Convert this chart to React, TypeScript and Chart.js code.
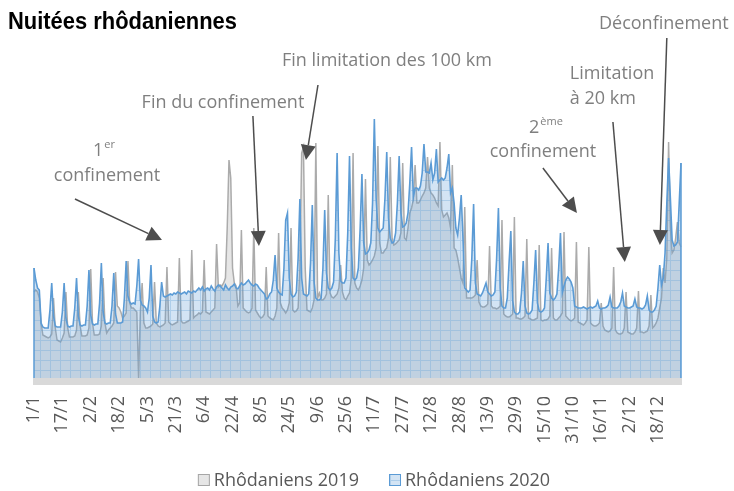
import React, { useEffect, useRef } from 'react';
import { Chart, registerables } from 'chart.js';

Chart.register(...registerables);

const TITLE = 'Nuitées rhôdaniennes';
const SERIES_LABELS = ['Rhôdaniens 2019', 'Rhôdaniens 2020'];
const TICK_LABELS = ['1/1', '17/1', '2/2', '18/2', '5/3', '21/3', '6/4', '22/4', '8/5', '24/5', '9/6', '25/6', '11/7', '27/7', '12/8', '28/8', '13/9', '29/9', '15/10', '31/10', '16/11', '2/12', '18/12'];

// daily categories of 2020 (leap year, 366 days)
const DAYS: string[] = [];
for (let i = 0; i < 366; i++) {
  const d = new Date(2020, 0, 1 + i);
  DAYS.push(`${d.getDate()}/${d.getMonth() + 1}`);
}

// Nuitées 2019 (aligned by calendar date; 29/2 has no 2019 value)
const NUITEES_2019 = [
  86, 88, 86, 80, 55, 43, 42,
  41, 40, 41, 44, 80, 50, 38,
  37, 36, 40, 45, 86, 50, 41,
  41, 41, 42, 48, 86, 52, 42,
  42, 42, 43, 50, 109, 55, 43,
  43, 43, 44, 52, 100, 55, 45,
  48, 50, 52, 55, 106, 72, 70,
  66, 60, 62, 65, 117, 75, 70,
  70, 68, 66, 0, 66, 95, 55,
  50, 50, 51, 52, 54, 96, 55,
  52, 51, 52, 53, 55, 111, 56,
  54, 53, 54, 55, 56, 120, 57,
  55, 55, 56, 57, 58, 128, 60,
  62, 63, 65, 64, 66, 118, 66,
  65, 64, 66, 68, 70, 134, 91,
  93, 92, 95, 100, 150, 218, 200,
  110, 95, 92, 72, 75, 148, 70,
  68, 66, 65, 66, 70, 150, 68,
  65, 62, 60, 61, 64, 111, 62,
  60, 59, 58, 62, 70, 145, 75,
  70, 68, 65, 68, 75, 150, 68,
  66, 67, 70, 110, 225, 231, 110,
  68, 67, 66, 70, 78, 235, 80,
  85, 78, 78, 80, 84, 183, 85,
  81, 80, 82, 84, 90, 113, 86,
  80, 78, 82, 85, 100, 225, 95,
  90, 88, 92, 98, 110, 199, 118,
  113, 115, 118, 122, 130, 232, 135,
  125, 125, 128, 130, 140, 221, 140,
  133, 134, 136, 138, 145, 215, 140,
  138, 150, 165, 170, 178, 213, 175,
  175, 178, 182, 185, 190, 221, 190,
  185, 183, 180, 175, 172, 236, 168,
  161, 163, 165, 160, 150, 213, 130,
  128, 120, 110, 100, 95, 171, 80,
  80, 80, 80, 81, 83, 118, 76,
  72, 71, 71, 72, 74, 132, 72,
  70, 70, 69, 70, 72, 158, 64,
  62, 61, 61, 62, 64, 161, 60,
  60, 59, 59, 60, 62, 139, 60,
  59, 58, 58, 59, 60, 133, 58,
  57, 58, 58, 59, 62, 130, 60,
  58, 58, 60, 62, 65, 146, 62,
  60, 58, 57, 58, 60, 136, 56,
  55, 54, 53, 55, 58, 131, 55,
  53, 52, 52, 53, 55, 75, 52,
  48, 47, 46, 47, 50, 111, 48,
  45, 44, 44, 45, 50, 86, 46,
  45, 44, 44, 46, 50, 87, 46,
  46, 45, 46, 47, 52, 83, 50,
  52, 55, 60, 70, 80, 110, 95,
  120, 236, 150, 125, 128, 140, 156,
  135, 131,
];

const NUITEES_2020 = [
  110, 98, 90, 88, 55, 51, 50,
  50, 50, 68, 95, 62, 52, 51,
  51, 51, 66, 95, 60, 52, 51,
  52, 52, 70, 100, 62, 53, 52,
  53, 53, 72, 108, 63, 54, 53,
  54, 54, 75, 115, 66, 55, 54,
  55, 55, 72, 105, 64, 55, 55,
  55, 56, 80, 117, 82, 76, 74,
  75, 74, 92, 119, 78, 73, 72,
  70, 66, 80, 113, 62, 56, 55,
  56, 72, 96, 82, 81, 82, 83,
  84, 83, 85, 84, 86, 85, 84,
  85, 86, 84, 87, 86, 85, 87,
  86, 88, 90, 88, 91, 87, 89,
  90, 88, 92, 89, 87, 91, 93,
  92, 90, 88, 93, 90, 88, 91,
  92, 94, 90, 89, 92, 95, 93,
  94, 96, 98, 95, 93, 92, 94,
  93, 90, 88, 86, 84, 79, 80,
  84, 86, 98, 123, 90, 86, 84,
  83, 110, 158, 165, 100, 84, 81,
  82, 86, 120, 179, 100, 84, 83,
  82, 84, 115, 173, 96, 80, 78,
  78, 80, 110, 168, 105, 90, 88,
  90, 96, 140, 225, 125, 97, 95,
  95, 100, 145, 222, 130, 100, 98,
  100, 110, 150, 204, 135, 124, 125,
  128, 135, 175, 259, 180, 150, 146,
  148, 150, 180, 226, 160, 140, 135,
  136, 145, 175, 222, 165, 151, 152,
  155, 165, 195, 231, 181, 190, 190,
  188, 192, 205, 234, 206, 206, 205,
  215, 198, 205, 229, 196, 198, 200,
  198, 200, 210, 224, 185, 190, 175,
  150, 143, 160, 183, 140, 90, 88,
  86, 88, 120, 174, 95, 84, 83,
  82, 85, 90, 95, 86, 84, 82,
  83, 86, 120, 170, 90, 72, 70,
  70, 80, 115, 147, 78, 66, 64,
  64, 66, 85, 117, 72, 65, 64,
  65, 68, 95, 128, 75, 67, 66,
  67, 70, 100, 135, 85, 80, 78,
  80, 84, 110, 145, 85, 92, 98,
  101, 99, 96, 90, 72, 71, 70,
  70, 70, 71, 70, 69, 70, 71,
  70, 71, 72, 77, 70, 69, 70,
  70, 71, 73, 81, 71, 70, 70,
  70, 72, 76, 85, 72, 71, 70,
  70, 71, 72, 79, 71, 70, 70,
  69, 70, 73, 82, 68, 66, 66,
  68, 72, 90, 113, 93, 100, 125,
  175, 220, 180, 138, 132, 133, 136,
  175, 215,
];

// Annotations, positioned in data coordinates [day index, value]
type Txt = { text: string; sup?: string; at: [number, number]; align?: CanvasTextAlign };
type Note = { texts: Txt[]; from: [number, number]; to: [number, number] };
const NOTES: Note[] = [
  { texts: [{ text: '1', sup: 'er', at: [39.5, 222] }, { text: 'confinement', at: [41.2, 197] }], from: [23.1, 179], to: [72.2, 138] },
  { texts: [{ text: 'Fin du confinement', at: [106.6, 270] }], from: [123.5, 262], to: [126.9, 132] },
  { texts: [{ text: 'Fin limitation des 100 km', at: [199.1, 312] }], from: [160.2, 293], to: [153.4, 218] },
  { texts: [{ text: '2', sup: 'ème', at: [288.8, 245] }, { text: 'confinement', at: [287.1, 221] }], from: [287.1, 210], to: [306.3, 165] },
  { texts: [{ text: 'Limitation', at: [302.3, 299], align: 'left' }, { text: 'à 20 km', at: [302.3, 274], align: 'left' }], from: [326.6, 256], to: [333.3, 116] },
  { texts: [{ text: 'Déconfinement', at: [355.3, 349] }], from: [357, 340], to: [353.1, 133] },
];

const NOTE_FONT = '18px "Open Sans", sans-serif';
const SUP_FONT = '11px "Open Sans", sans-serif';
const TEXT_GREY = '#7F7F7F';
const ARROW_COLOR = '#4D4D4D';
const BLUE = '#5B9BD5';
const GREY_LINE = '#ABABAB';

function drawArrow(ctx: CanvasRenderingContext2D, x1: number, y1: number, x2: number, y2: number) {
  const a = Math.atan2(y2 - y1, x2 - x1);
  const L = 15, W = 7.5;
  const c = Math.cos(a), s = Math.sin(a);
  const bx = x2 - L * c, by = y2 - L * s;
  ctx.save();
  ctx.strokeStyle = ARROW_COLOR;
  ctx.fillStyle = ARROW_COLOR;
  ctx.lineWidth = 1.5;
  ctx.beginPath();
  ctx.moveTo(x1, y1);
  ctx.lineTo(bx, by);
  ctx.stroke();
  ctx.beginPath();
  ctx.moveTo(x2, y2);
  ctx.lineTo(bx + W * s, by - W * c);
  ctx.lineTo(bx - W * s, by + W * c);
  ctx.closePath();
  ctx.fill();
  ctx.restore();
}

export default function App() {
  const ref = useRef<HTMLCanvasElement>(null);
  useEffect(() => {
    const canvas = ref.current!;
    const ctx = canvas.getContext('2d')!;
    const pc = document.createElement('canvas');
    pc.width = 10; pc.height = 10;
    const p = pc.getContext('2d')!;
    p.fillStyle = 'rgba(91,155,213,0.27)';
    p.fillRect(0, 0, 10, 10);
    p.fillStyle = 'rgba(91,155,213,0.3)';
    p.fillRect(0, 0, 10, 1);
    p.fillRect(0, 1, 1, 9);
    const pattern = ctx.createPattern(pc, 'repeat')!;
    const greyFill = 'rgba(200,200,200,0.45)';

    const overlay = {
      id: 'overlay',
      afterDatasetsDraw(chart: any) {
        const { ctx: c, chartArea } = chart;
        const meta = chart.getDatasetMeta(1);
        const pts = meta.data;
        c.save();
        c.strokeStyle = BLUE;
        c.lineWidth = 1.5;
        [pts[0], pts[pts.length - 1]].forEach((pt: any) => {
          c.beginPath();
          c.moveTo(pt.x, pt.y);
          c.lineTo(pt.x, chartArea.bottom);
          c.stroke();
        });
        c.restore();
      },
      afterDraw(chart: any) {
        const { ctx: c, chartArea, scales } = chart;
        const xs = scales.x, ys = scales.y;
        c.save();
        // axis band
        c.fillStyle = '#D9D9D9';
        c.fillRect(chartArea.left - 1, chartArea.bottom, chartArea.right - chartArea.left + 2, 7);
        // title (condensed bold)
        c.save();
        c.fillStyle = '#000000';
        c.font = 'bold 24px "Liberation Sans", Arial, sans-serif';
        c.textAlign = 'left';
        c.textBaseline = 'alphabetic';
        const tw0 = c.measureText(TITLE).width;
        c.translate(8, 29);
        c.scale(229 / tw0, 1);
        c.fillText(TITLE, 0, 0);
        c.restore();
        // annotations
        NOTES.forEach((n) => {
          drawArrow(c, xs.getPixelForValue(n.from[0]), ys.getPixelForValue(n.from[1]), xs.getPixelForValue(n.to[0]), ys.getPixelForValue(n.to[1]));
          n.texts.forEach((t) => {
            const px = xs.getPixelForValue(t.at[0]);
            const py = ys.getPixelForValue(t.at[1]);
            c.fillStyle = TEXT_GREY;
            c.textBaseline = 'alphabetic';
            c.font = NOTE_FONT;
            const w1 = c.measureText(t.text).width;
            c.font = SUP_FONT;
            const w2 = t.sup ? c.measureText(t.sup).width + 1 : 0;
            const total = w1 + w2;
            const left = t.align === 'left' ? px : px - total / 2;
            c.textAlign = 'left';
            c.font = NOTE_FONT;
            c.fillText(t.text, left, py);
            if (t.sup) {
              c.font = SUP_FONT;
              c.fillText(t.sup, left + w1 + 1, py - 8);
            }
          });
        });
        // legend
        c.font = '18px "Open Sans", sans-serif';
        c.textBaseline = 'middle';
        c.textAlign = 'left';
        const box = 12, gap = 4, spacing = 30;
        const tw = SERIES_LABELS.map((l) => c.measureText(l).width);
        const totalW = tw[0] + tw[1] + 2 * (box + gap) + spacing;
        let lx = chart.width / 2 + 7 - totalW / 2;
        const ly = 480;
        const fills = [greyFill, pattern];
        const strokes = ['#A6A6A6', BLUE];
        SERIES_LABELS.forEach((l, i) => {
          c.fillStyle = '#FFFFFF';
          c.fillRect(lx, ly - box / 2, box, box);
          c.fillStyle = fills[i] as any;
          c.fillRect(lx, ly - box / 2, box, box);
          c.strokeStyle = strokes[i];
          c.lineWidth = 1;
          c.strokeRect(lx + 0.5, ly - box / 2 + 0.5, box - 1, box - 1);
          c.fillStyle = '#595959';
          c.fillText(l, lx + box + gap, ly + 1);
          lx += box + gap + tw[i] + spacing;
        });
        c.restore();
      },
    };

    const chart = new Chart(canvas, {
      type: 'line',
      data: {
        labels: DAYS,
        datasets: [
          {
            label: SERIES_LABELS[0],
            data: NUITEES_2019,
            borderColor: GREY_LINE,
            backgroundColor: greyFill,
            borderWidth: 1.5,
            fill: 'origin',
            pointRadius: 0,
            tension: 0,
            order: 2,
          },
          {
            label: SERIES_LABELS[1],
            data: NUITEES_2020,
            borderColor: BLUE,
            backgroundColor: pattern as any,
            borderWidth: 1.6,
            fill: 'origin',
            pointRadius: 0,
            tension: 0,
            order: 1,
          },
        ],
      },
      options: {
        responsive: false,
        animation: false,
        layout: { padding: { left: 34, right: 53, top: 40, bottom: 0 } },
        plugins: { legend: { display: false }, tooltip: { enabled: false }, title: { display: false } },
        scales: {
          x: {
            type: 'category',
            offset: false,
            grid: { display: false },
            border: { display: false },
            afterFit: (scale: any) => { scale.height = 113; },
            ticks: {
              autoSkip: false,
              maxRotation: 90,
              minRotation: 90,
              padding: 10,
              color: '#595959',
              font: { family: '"Open Sans", sans-serif', size: 18 },
              callback: (_v: any, idx: number) => (TICK_LABELS.includes(DAYS[idx]) ? DAYS[idx] : null),
            },
          },
          y: { display: false, min: 0, max: 338 },
        },
      },
      plugins: [overlay],
    });
    return () => chart.destroy();
  }, []);
  return (
    <div style={{ position: 'absolute', left: 0, top: 0, width: 734, height: 491, background: '#FFFFFF' }}>
      <canvas ref={ref} width={734} height={491} style={{ display: 'block' }} />
    </div>
  );
}
